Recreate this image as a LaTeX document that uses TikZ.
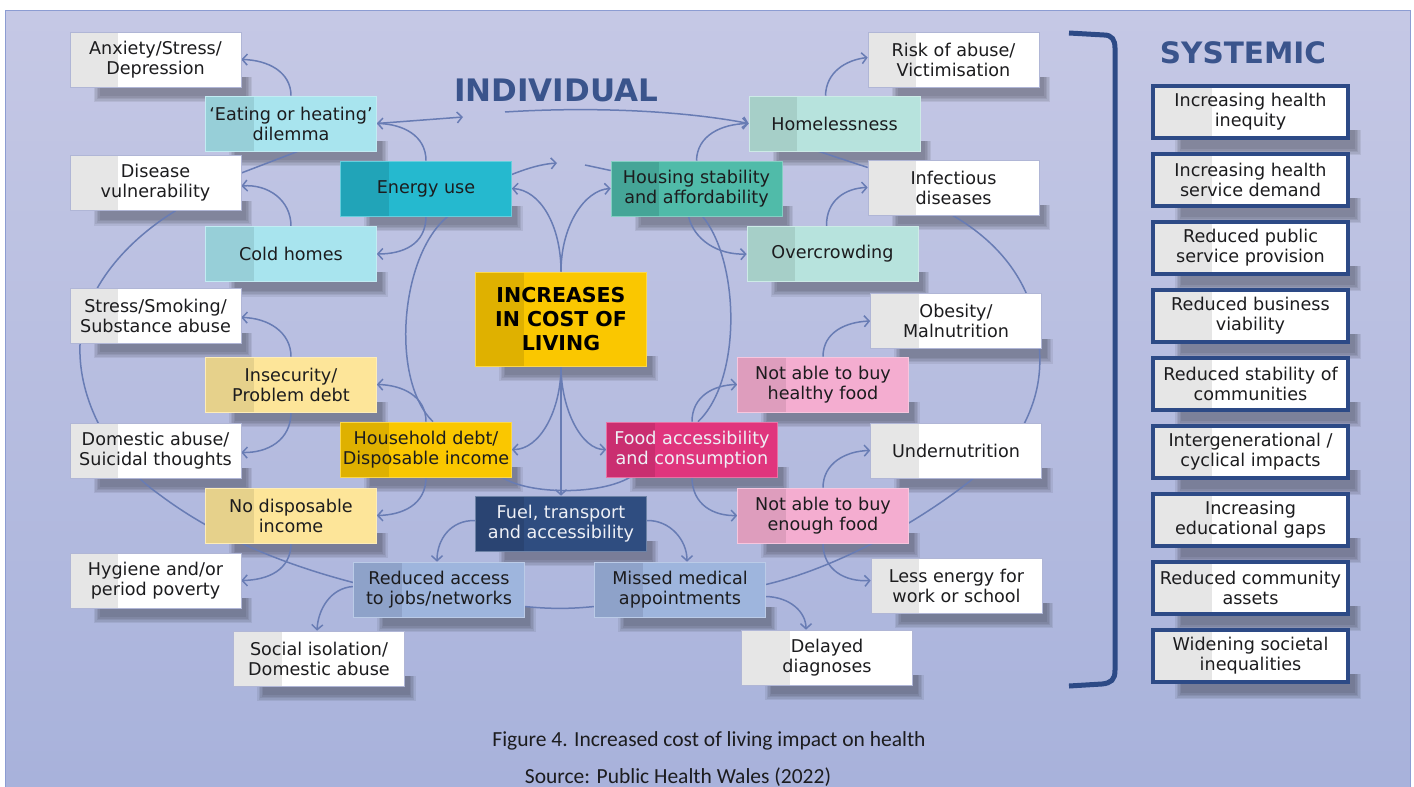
\documentclass[tikz,border=0pt]{standalone}
\usepackage{fontspec}
\setmainfont{DejaVu Sans}
\newfontfamily\capfont{Carlito}
\usetikzlibrary{arrows.meta}

\definecolor{panelTop}{RGB}{197,200,229}
\definecolor{panelBot}{RGB}{168,178,219}
\definecolor{panelEdge}{RGB}{140,156,210}
\definecolor{wire}{RGB}{104,124,180}
\definecolor{ink}{RGB}{28,28,30}
\definecolor{inkLight}{RGB}{238,240,246}
\definecolor{headBlue}{RGB}{58,84,140}
\definecolor{sysBlue}{RGB}{45,74,134}
\definecolor{greyBand}{RGB}{230,230,230}
\definecolor{whiteEdge}{RGB}{176,182,214}
\definecolor{cyanPale}{RGB}{168,228,238}
\definecolor{cyanPaleBand}{RGB}{151,207,216}
\definecolor{cyanDeep}{RGB}{37,185,207}
\definecolor{cyanDeepBand}{RGB}{33,164,184}
\definecolor{tealDeep}{RGB}{80,187,169}
\definecolor{tealDeepBand}{RGB}{69,165,151}
\definecolor{tealPale}{RGB}{183,227,221}
\definecolor{tealPaleBand}{RGB}{166,207,200}
\definecolor{sand}{RGB}{253,229,153}
\definecolor{sandBand}{RGB}{230,209,139}
\definecolor{gold}{RGB}{250,199,0}
\definecolor{goldBand}{RGB}{223,177,0}
\definecolor{navy}{RGB}{47,77,128}
\definecolor{navyBand}{RGB}{42,68,114}
\definecolor{steel}{RGB}{158,181,221}
\definecolor{steelBand}{RGB}{142,162,201}
\definecolor{rose}{RGB}{244,173,208}
\definecolor{roseBand}{RGB}{222,157,189}
\definecolor{berry}{RGB}{224,53,125}
\definecolor{berryBand}{RGB}{202,46,112}

\newcommand\cardfont{\fontsize{17.6}{20}\selectfont}
\newcommand\capsize{\capfont\fontsize{21.5}{24}\selectfont}

% soft shadow along the lower edge of a box: stacked translucent strips
\newcommand\castshadow[1]{%
  \foreach \g in {6,4.5,3,1.5,0}{%
    \fill[black, fill opacity=0.07]
      ([xshift={30pt-\g pt}, yshift={-9pt-\g pt}]#1.south west) rectangle
      ([xshift={5pt+\g pt}, yshift={10pt}]#1.south east);
  }}

\pgfdeclarelayer{panel}
\pgfdeclarelayer{shade}
\pgfdeclarelayer{wires}
\pgfsetlayers{panel,shade,wires,main}

\begin{document}
\begin{tikzpicture}[x=1pt,y=-1pt,
  band/.style 2 args={path picture={\fill[#1] (path picture bounding box.north west) rectangle ([xshift=#2]path picture bounding box.south west);}},
  card/.style n args={3}{minimum width=171pt, minimum height=55pt, inner sep=1pt, align=center,
    text=ink, font=\cardfont, line width=0.6pt, fill=#1, band={#2}{48pt}, draw=#3},
  outbox/.style={card={white}{greyBand}{whiteEdge}},
  palecyan/.style={card={cyanPale}{cyanPaleBand}{cyanPale!70!white}},
  deepcyan/.style={card={cyanDeep}{cyanDeepBand}{cyanDeep!70!white}},
  tealbox/.style={card={tealDeep}{tealDeepBand}{tealDeep!70!white}},
  paleteal/.style={card={tealPale}{tealPaleBand}{tealPale!70!white}},
  sandbox/.style={card={sand}{sandBand}{sand!70!white}},
  goldbox/.style={card={gold}{goldBand}{gold!70!white}},
  costbox/.style={card={gold}{goldBand}{gold!70!white}, minimum height=94pt, text=black,
    font=\bfseries\fontsize{20.5}{24}\selectfont},
  navybox/.style={card={navy}{navyBand}{navy!70!white}, text=inkLight},
  steelbox/.style={card={steel}{steelBand}{steel!70!white}},
  rosebox/.style={card={rose}{roseBand}{rose!70!white}},
  berrybox/.style={card={berry}{berryBand}{berry!70!white}, text=inkLight},
  sysbox/.style={minimum width=195pt, minimum height=52pt, inner sep=1pt, align=center,
    text=ink, font=\cardfont, draw=sysBlue, line width=4pt, fill=white, band={greyBand}{59pt}},
  heading/.style={text=headBlue, font=\bfseries\fontsize{31}{36}\selectfont, inner sep=0pt},
  plainline/.style={draw=wire, line width=1.5pt},
  arrowline/.style={plainline, -{Straight Barb[length=5pt,width=11pt]}},
]
\useasboundingbox (0,0) rectangle (1414,787);

% backdrop panel with a vertical colour gradient
\begin{pgfonlayer}{panel}
  \fill[white] (0,0) rectangle (1414,787);
  \foreach \i in {0,...,77}{%
    \pgfmathsetmacro\mix{100*\i/77}%
    \fill[panelBot!\mix!panelTop] (5,{10.5+10*\i}) rectangle (1410,{21.2+10*\i});
  }
  \draw[panelEdge, line width=1pt] (5,800) -- (5,10.5) -- (1410,10.5) -- (1410,800);
\end{pgfonlayer}

% headings
\node[heading] (indiv) at (556,90) {INDIVIDUAL};
\node[heading, font=\bfseries\fontsize{29.5}{34}\selectfont] (syst) at (1243,53) {SYSTEMIC};

% left-hand outcomes
\node[outbox] (anx) at (155.5,59.5) {Anxiety/Stress/\\Depression};
\node[outbox] (dis) at (155.5,183) {Disease\\vulnerability};
\node[outbox] (smk) at (155.5,315.5) {Stress/Smoking/\\Substance abuse};
\node[outbox] (dom) at (155.5,450.5) {Domestic abuse/\\Suicidal thoughts};
\node[outbox] (hyg) at (155.5,580.5) {Hygiene and/or\\period poverty};

% energy and debt branch
\node[palecyan] (eat) at (291,123.5) {‘Eating or heating’\\dilemma};
\node[palecyan] (cold) at (291,254) {Cold homes};
\node[deepcyan] (nrg) at (426,188.5) {Energy use};
\node[sandbox] (ins) at (291,384.5) {Insecurity/\\Problem debt};
\node[sandbox] (nodi) at (291,515.5) {No disposable\\income};
\node[goldbox] (hh) at (426,449.5) {Household debt/\\Disposable income};

% centre
\node[costbox] (cost) at (561,319) {INCREASES\\IN COST OF\\LIVING};

% transport branch
\node[navybox] (fuel) at (561,523.5) {Fuel, transport\\and accessibility};
\node[steelbox] (red) at (439,589.5) {Reduced access\\to jobs/networks};
\node[steelbox] (mis) at (680,589.5) {Missed medical\\appointments};
\node[outbox] (soc) at (319,658.5) {Social isolation/\\Domestic abuse};
\node[outbox] (del) at (827,657.5) {Delayed\\diagnoses};

% housing branch
\node[tealbox] (hous) at (696.5,188.5) {Housing stability\\and affordability};
\node[paleteal] (home) at (834.5,123.5) {Homelessness};
\node[paleteal] (crowd) at (832.5,254) {Overcrowding};
\node[outbox] (risk) at (953.5,59.5) {Risk of abuse/\\Victimisation};
\node[outbox] (inf) at (953.5,187.5) {Infectious\\diseases};

% food branch
\node[berrybox] (food) at (692,449.5) {Food accessibility\\and consumption};
\node[rosebox] (hfood) at (823,384.5) {Not able to buy\\healthy food};
\node[rosebox] (efood) at (823,515.5) {Not able to buy\\enough food};
\node[outbox] (obe) at (956,321) {Obesity/\\Malnutrition};
\node[outbox] (und) at (956,450.5) {Undernutrition};
\node[outbox] (less) at (956.5,585.5) {Less energy for\\work or school};

% systemic impacts
\node[sysbox] (s1) at (1250.5,112) {Increasing health\\inequity};
\node[sysbox] (s2) at (1250.5,180) {Increasing health\\service demand};
\node[sysbox] (s3) at (1250.5,248) {Reduced public\\service provision};
\node[sysbox] (s4) at (1250.5,316) {Reduced business\\viability};
\node[sysbox] (s5) at (1250.5,384) {Reduced stability of\\communities};
\node[sysbox] (s6) at (1250.5,452) {Intergenerational /\\cyclical impacts};
\node[sysbox] (s7) at (1250.5,520) {Increasing\\educational gaps};
\node[sysbox] (s8) at (1250.5,588) {Reduced community\\assets};
\node[sysbox] (s9) at (1250.5,656) {Widening societal\\inequalities};

\begin{pgfonlayer}{shade}
  \foreach \n in {anx,dis,smk,dom,hyg,eat,cold,nrg,ins,nodi,hh,cost,fuel,red,mis,soc,del,
                  hous,home,crowd,risk,inf,food,hfood,efood,obe,und,less,
                  s1,s2,s3,s4,s5,s6,s7,s8,s9}{\castshadow{\n}}
\end{pgfonlayer}

% bracket gathering the individual effects
\draw[sysBlue, line width=5pt] (1069,33) -- (1104,35) .. controls (1112,35) and (1115,40) .. (1115,48)
  -- (1115,670) .. controls (1115,680) and (1111,683) .. (1102,684) -- (1069,686);

% caption
\node[text=ink, font=\capsize] (cap) at (709,741) {Figure 4. Increased cost of living impact on health};
\node[text=ink, font=\capsize] (src) at (678,777) {Source: Public Health Wales (2022)};

% break points of the lines running past the heading
\coordinate (gapL) at (463,117);
\coordinate (gapR) at (505,112);
\coordinate (midL) at (557,163);
\coordinate (midR) at (585,165);

\begin{pgfonlayer}{wires}
  % energy branch
  \draw[arrowline] (eat.north) .. controls (291,72) and (268,60) .. (anx.east);
  \draw[arrowline] (nrg.north) .. controls (426,135) and (402,124) .. (eat.east);
  \draw[arrowline] (eat.east) -- (gapL);
  \draw[arrowline] (gapR) .. controls (600,106) and (690,112) .. (home.west);
  \draw[arrowline] ([yshift=14pt]nrg.east) .. controls (528,168) and (542,164) .. (midL);
  \draw[plainline] (midR) -- ([yshift=18pt]hous.west);
  \draw[arrowline] (nrg.south) .. controls (426,245) and (402,254) .. (cold.east);
  \draw[arrowline] (cold.north) .. controls (291,200) and (268,184) .. ([yshift=-3pt]dis.east);
  \draw[plainline] ([xshift=7pt]eat.south) -- ([yshift=10pt]dis.east);
  \draw[plainline] ([xshift=22pt]nrg.south) .. controls (400,255) and (390,380) .. ([xshift=7pt]hh.north);

  % long arc on the left
  \draw[plainline] ([xshift=20pt]dis.south) .. controls (120,245) and (82,295) .. (80,345)
    .. controls (78,400) and (110,460) .. (160,495)
    .. controls (220,540) and (290,566) .. ([yshift=7pt]red.west);

  % debt branch
  \draw[arrowline] (ins.north) .. controls (291,332) and (268,318) .. ([yshift=-2pt]smk.east);
  \draw[arrowline] (ins.south) .. controls (291,440) and (268,453) .. ([yshift=-2pt]dom.east);
  \draw[arrowline] (hh.north) .. controls (426,396) and (402,385) .. (ins.east);
  \draw[arrowline] (hh.south) .. controls (426,505) and (402,515) .. (nodi.east);
  \draw[arrowline] (nodi.south) .. controls (291,570) and (268,580) .. (hyg.east);

  % from the centre
  \draw[arrowline] (cost.north) .. controls (561,225) and (540,190) .. (nrg.east);
  \draw[arrowline] (cost.north) .. controls (561,225) and (585,190) .. (hous.west);
  \draw[arrowline] (cost.south) .. controls (561,410) and (540,450) .. (hh.east);
  \draw[arrowline] (cost.south) .. controls (561,410) and (582,450) .. (food.west);
  \draw[arrowline] (cost.south) -- (fuel.north);
  \draw[plainline] ([xshift=76pt]hh.south) .. controls (530,495) and (600,495) .. ([xshift=-62pt]food.south);

  % housing branch
  \draw[arrowline] (hous.north) .. controls (697,135) and (722,124) .. (home.west);
  \draw[arrowline] ([xshift=-9pt]home.north) .. controls (826,72) and (846,60) .. ([yshift=2pt]risk.west);
  \draw[plainline] ([xshift=-16pt]home.south) -- ([yshift=20pt]inf.west);
  \draw[arrowline] ([xshift=-6pt]crowd.north) .. controls (826,200) and (846,188) .. (inf.west);
  \draw[arrowline] ([xshift=-8pt]hous.south) .. controls (694,240) and (718,255) .. (crowd.west);
  \draw[plainline] ([xshift=6pt]hous.south) .. controls (740,262) and (742,380) .. ([xshift=6pt]food.north);

  % food branch
  \draw[arrowline] (food.north) .. controls (692,396) and (714,385) .. (hfood.west);
  \draw[arrowline] (food.south) .. controls (692,505) and (714,516) .. (efood.west);
  \draw[arrowline] (hfood.north) .. controls (823,332) and (846,322) .. (obe.west);
  \draw[arrowline] (efood.north) .. controls (823,463) and (846,451) .. (und.west);
  \draw[arrowline] (efood.south) .. controls (823,570) and (845,582) .. ([yshift=5pt]less.west);

  % long arc on the right
  \draw[plainline] ([xshift=-1pt]inf.south) .. controls (995,240) and (1025,275) .. (1035,320)
    .. controls (1045,365) and (1040,400) .. (1015,440)
    .. controls (960,500) and (850,565) .. ([yshift=5pt]mis.east);

  % transport branch
  \draw[plainline] ([yshift=-17pt]red.east) .. controls (550,609) and (570,609) .. ([yshift=-17pt]mis.west);
  \draw[arrowline] ([yshift=3pt]fuel.west) .. controls (450,520) and (437,540) .. ([xshift=-2pt]red.north);
  \draw[arrowline] ([yshift=3pt]fuel.east) .. controls (670,520) and (687,540) .. ([xshift=7pt]mis.north);
  \draw[arrowline] ([yshift=3pt]red.west) .. controls (330,588) and (318,610) .. ([xshift=-2pt]soc.north);
  \draw[arrowline] ([yshift=-7pt]mis.east) .. controls (790,597) and (806,612) .. ([xshift=-21pt]del.north);
\end{pgfonlayer}
\end{tikzpicture}
\end{document}
